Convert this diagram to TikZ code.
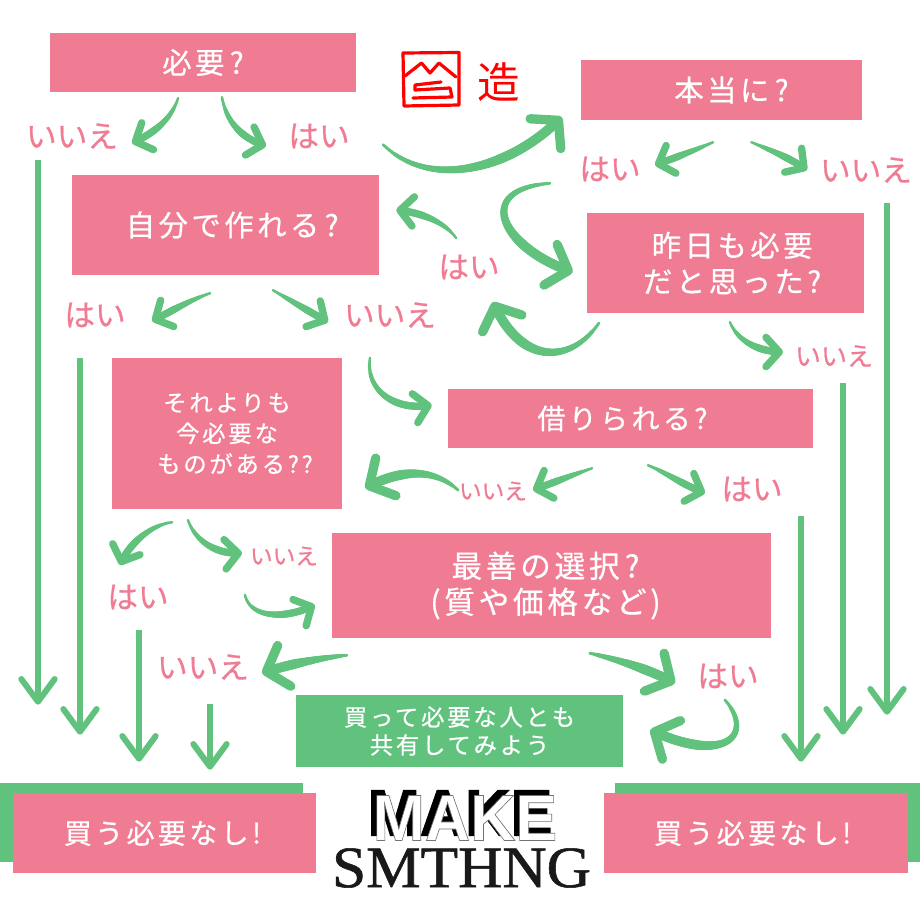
\documentclass[tikz,border=0pt]{standalone}
\usepackage{fontspec}
\setmainfont{Liberation Serif}
\newfontfamily\cjk{Noto Sans CJK JP}[FakeBold=0.6]
\newfontfamily\cjktrack{Noto Sans CJK JP}[FakeBold=0.6,LetterSpace=12]
\newfontfamily\cjkplain{Noto Sans CJK JP}
\newfontfamily\logosans{Liberation Sans}[BoldFont={Liberation Sans Bold}]
\usetikzlibrary{arrows.meta,decorations.markings}
\definecolor{boxpink}{RGB}{240,124,147}
\definecolor{brushgreen}{RGB}{96,194,125}
\definecolor{sealred}{RGB}{255,0,0}
\tikzset{
  pinkbox/.style={fill=boxpink,text=white,inner sep=0pt,align=center,font=\cjktrack\fontsize{22pt}{27pt}\selectfont},
  greenbox/.style={fill=brushgreen,text=white,inner sep=0pt,align=center,font=\cjktrack\fontsize{17.5pt}{21pt}\selectfont},
  backbar/.style={fill=brushgreen,inner sep=0pt},
  answer/.style={text=boxpink,inner sep=0pt,font=\cjk\fontsize{23pt}{23pt}\selectfont},
  smallanswer/.style={text=boxpink,inner sep=0pt,font=\cjk\fontsize{17pt}{17pt}\selectfont},
  taper/.style 2 args={preaction={decorate,decoration={markings,
    mark=between positions 0 and 0.93 step 0.8pt with {%
      \pgfmathsetmacro\brushr{#1+(#2-#1)*min(1,1.6*\pgfkeysvalueof{/pgf/decoration/mark info/distance from start}/\pgfdecoratedpathlength)}%
      \fill [brushgreen] (0,0) circle (\brushr pt);}}}},
  brush/.style={draw=brushgreen,line width=1.5pt,line cap=round,taper={1}{2.8},
    -{Straight Barb[length=10pt,width=22pt,line width=5.5pt,round]}},
  bigbrush/.style={draw=brushgreen,line width=1.5pt,line cap=round,taper={1.2}{3.7},
    -{Straight Barb[length=14pt,width=32pt,line width=7pt,round]}},
  downbrush/.style={draw=brushgreen,line width=4.5pt,-{Straight Barb[length=17pt,width=25pt,line width=4.5pt,round]}},
  seal/.style={draw=sealred,line width=2.4pt,line join=round,line cap=round},
  logofont/.style={inner sep=0pt,font=\logosans\bfseries\fontsize{49pt}{49pt}\selectfont}
}
\begin{document}
\begin{tikzpicture}[x=0.75pt,y=0.75pt,yscale=-1,xscale=1]
    \useasboundingbox (0,0) rectangle (920,920);

    %Shape: Rectangle green bars behind the last boxes
    \node [backbar,minimum width=227.25pt,minimum height=59.25pt] (barleft) at (151.5,822.5) {};
    \node [backbar,minimum width=228.75pt,minimum height=59.25pt] (barright) at (767.5,822.5) {};

    %Shape: Rectangle
    \node [pinkbox,minimum width=229.5pt,minimum height=44.25pt] (need) at (203,62.5) {必要\hspace{4pt}?};
    \node [pinkbox,minimum width=210.75pt,minimum height=45pt] (really) at (721.5,90) {\hspace*{15pt}本当に\hspace{4pt}?};
    \node [pinkbox,minimum width=230.25pt,minimum height=75pt] (diy) at (225.5,225) {\hspace*{10pt}自分で作れる\hspace{4pt}?};
    \node [pinkbox,minimum width=207.75pt,minimum height=75pt] (yesterday) at (725.5,263) {\hspace*{10pt}昨日も必要\\\hspace*{10pt}だと思った?};
    \node [pinkbox,minimum width=172.5pt,minimum height=113.25pt,font=\cjktrack\fontsize{17.5pt}{23pt}\selectfont] (other) at (227,433.5) {それよりも\\今必要な\\\hspace*{12pt}ものがある??};
    \node [pinkbox,minimum width=273.75pt,minimum height=44.25pt,font=\cjktrack\fontsize{21pt}{27pt}\selectfont] (borrow) at (630.5,418.5) {借りられる?\hspace*{12pt}};
    \node [pinkbox,minimum width=329.25pt,minimum height=78.75pt,font=\cjktrack\fontsize{23pt}{27pt}\selectfont] (best) at (551.5,585.5) {最善の選択\hspace{4pt}?\hspace*{9pt}\\(質や価格など)\hspace*{9pt}};
    \node [greenbox,minimum width=245.25pt,minimum height=54pt] (share) at (459.5,731) {買って必要な人とも\\共有してみよう};
    \node [pinkbox,minimum width=227.25pt,minimum height=60pt,font=\cjktrack\fontsize{21pt}{27pt}\selectfont] (noneedleft) at (164.5,833) {買う必要なし!\hspace*{3pt}};
    \node [pinkbox,minimum width=228pt,minimum height=60pt,font=\cjktrack\fontsize{21pt}{27pt}\selectfont] (noneedright) at (756,833) {買う必要なし!\hspace*{5pt}};

    % Text Node
    \node [answer] (no1) at (72,136) {いいえ};
    \node [answer] (yes1) at (319,136) {はい};
    \node [answer] (yes2) at (610,169) {はい};
    \node [answer] (no2) at (866,170) {いいえ};
    \node [answer] (yes3) at (469,267) {はい};
    \node [answer] (yes4) at (95,315) {はい};
    \node [answer] (no3) at (390,315) {いいえ};
    \node [smallanswer,font=\cjk\fontsize{19.5pt}{20pt}\selectfont] (no4) at (834,356) {いいえ};
    \node [smallanswer] (no5) at (493,491) {いいえ};
    \node [answer] (yes5) at (752,489) {はい};
    \node [smallanswer] (no6) at (284,556) {いいえ};
    \node [answer] (yes6) at (138,597) {はい};
    \node [answer] (no7) at (203,667) {いいえ};
    \node [answer] (yes7) at (728,676) {はい};

    %Straight Lines
    \draw [downbrush] ([shift={(-34,24)}]no1.center) -- ([shift={(-113.5,-78)}]barleft.north);
    \draw [downbrush] ([shift={(-15,43)}]yes4.center) -- ([shift={(-71.5,-48)}]barleft.north);
    \draw [downbrush] ([shift={(1,33)}]yes6.center) -- ([shift={(-12.5,-21)}]barleft.north);
    \draw [downbrush] ([shift={(7,37)}]no7.center) -- ([shift={(58.5,-13)}]barleft.north);
    \draw [downbrush] ([shift={(21,33)}]no2.center) -- ([shift={(119.5,-68)}]barright.north);
    \draw [downbrush] ([shift={(9,27)}]no4.center) -- ([shift={(75.5,-48)}]barright.north);
    \draw [downbrush] ([shift={(49,27)}]yes5.center) -- ([shift={(33.5,-21)}]barright.north);

    %Curve Lines
    \draw [brush] ([shift={(-25,6)}]need.south) .. controls (172,118) and (155,133) .. ([shift={(60,7)}]no1.center);
    \draw [brush] ([shift={(19,5)}]need.south) .. controls (226,120) and (240,138) .. ([shift={(-53,10)}]yes1.center);
    \draw [bigbrush] ([shift={(4,-30)}]diy.north east) .. controls (430,190) and (510,170) .. ([shift={(-19,27)}]really.west);
    \draw [brush] ([shift={(-8.5,22)}]really.south) .. controls (695,150) and (675,158) .. ([shift={(45,-4)}]yes2.center);
    \draw [brush] ([shift={(30,22)}]really.south) .. controls (770,150) and (790,158) .. ([shift={(-59,0)}]no2.center);
    \draw [bigbrush] ([shift={(-31,63)}]really.south west) .. controls (470,190) and (505,250) .. ([shift={(-14,9)}]yesterday.west);
    \draw [bigbrush] ([shift={(12,10)}]yesterday.south west) .. controls (570,365) and (520,365) .. ([shift={(24,35)}]yes3.center);
    \draw [brush] ([shift={(-13,-29)}]yes3.center) .. controls (445,222) and (420,212) .. ([shift={(17,-15)}]diy.east);
    \draw [brush] ([shift={(-15.5,18)}]diy.south) .. controls (190,300) and (170,312) .. ([shift={(57,6)}]yes4.center);
    \draw [brush] ([shift={(47.5,15)}]diy.south) .. controls (290,300) and (310,312) .. ([shift={(-62,7)}]no3.center);
    \draw [brush] ([shift={(-20,43)}]no3.center) .. controls (365,390) and (395,412) .. ([shift={(-16,-13.5)}]borrow.west);
    \draw [brush] ([shift={(4.5,9)}]yesterday.south) .. controls (738,342) and (760,352) .. ([shift={(-51,-4)}]no4.center);
    \draw [brush] ([shift={(-38.5,20)}]borrow.south) .. controls (575,474) and (550,484) .. ([shift={(40,-1)}]no5.center);
    \draw [brush] ([shift={(17.5,17)}]borrow.south) .. controls (665,472) and (685,486) .. ([shift={(-47,4)}]yes5.center);
    \draw [bigbrush] ([shift={(-35,-1)}]no5.center) .. controls (430,465) and (395,472) .. ([shift={(23,54.5)}]other.east);
    \draw [brush] ([shift={(-55,13)}]other.south) .. controls (150,525) and (128,545) .. ([shift={(-18,-32)}]yes6.center);
    \draw [brush] ([shift={(-39,11)}]other.south) .. controls (195,540) and (215,555) .. ([shift={(-42,-3)}]no6.center);
    \draw [brush] ([shift={(-39,39)}]no6.center) .. controls (250,618) and (285,620) .. ([shift={(-17,19.5)}]best.west);
    \draw [bigbrush] ([shift={(15,17)}]best.south west) .. controls (320,658) and (290,664) .. ([shift={(59,6)}]no7.center);
    \draw [bigbrush] ([shift={(38.5,15)}]best.south) .. controls (620,660) and (650,670) .. ([shift={(-53,7)}]yes7.center);
    \draw [bigbrush] ([shift={(-3,24)}]yes7.center) .. controls (755,735) and (725,765) .. ([shift={(27,-1)}]share.east);

    %Shape: seal
    \draw [seal] (403,53) -- (459,52.5) -- (459,105) -- (404,106) -- cycle;
    \draw [seal] (405,76) -- (421.5,63) -- (430,73) -- (439,63) -- (456,77);
    \draw [seal] (441,82) -- (415,85) -- (415,90) -- (450,88) -- (452,97) -- (413,98);
    % Text Node
    \node [text=sealred,inner sep=0pt,font=\cjkplain\fontsize{32pt}{32pt}\selectfont] (sealchar) at (499,82) {造};

    % Text Node
    \node [logofont,text=black] (logoshade) at (460,813) {\scalebox{0.96}[1]{\special{pdf:code 2 Tr 1 w 0 0 0 RG}MAKE\special{pdf:code 0 Tr}}};
    \node [logofont,text=white] (logomake) at (465,818) {\scalebox{0.96}[1]{\special{pdf:code 2 Tr 0.5 w 0.45 0.45 0.45 RG}MAKE\special{pdf:code 0 Tr}}};
    \node [inner sep=0pt,text={black!90},font=\fontsize{44pt}{44pt}\selectfont] (logosmthng) at (461.5,868) {\scalebox{1.045}[1]{\special{pdf:code 2 Tr 0.4 w 0.1 0.1 0.1 RG}SMTHNG\special{pdf:code 0 Tr}}};
\end{tikzpicture}
\end{document}
